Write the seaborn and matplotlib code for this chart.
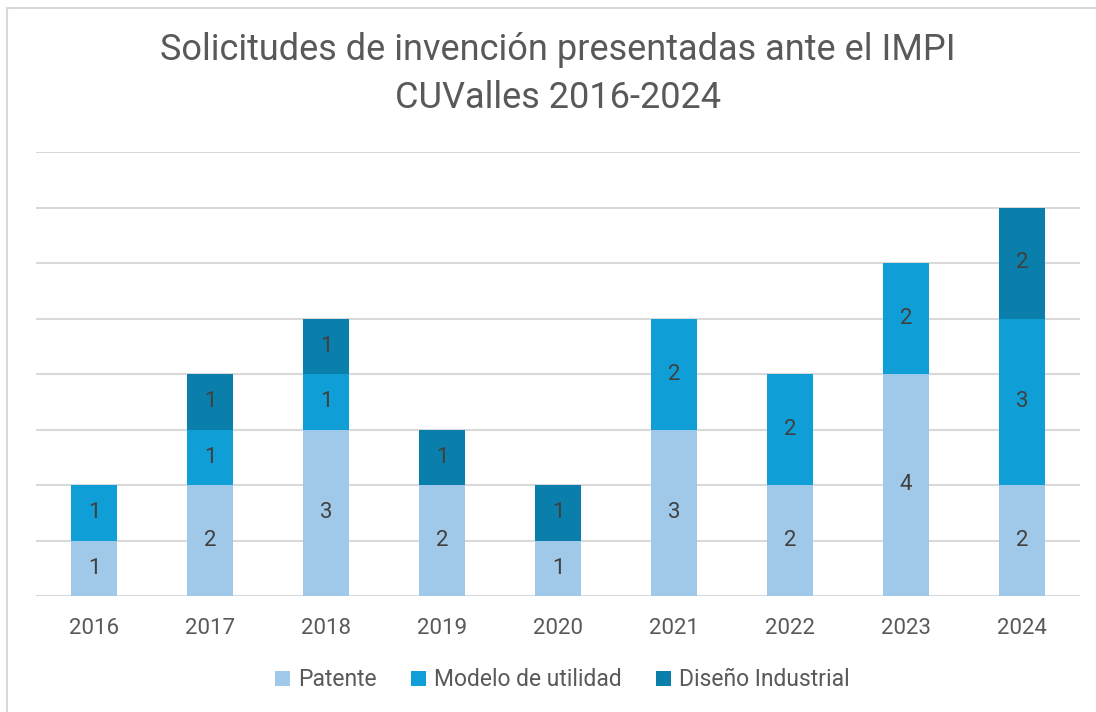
import matplotlib
matplotlib.use("Agg")
import matplotlib.pyplot as plt
import seaborn as sns
import numpy as np
from matplotlib.patches import Patch, Rectangle

years = ["2016", "2017", "2018", "2019", "2020", "2021", "2022", "2023", "2024"]
patente = [1, 2, 3, 2, 1, 3, 2, 4, 2]
modelo = [1, 1, 1, 0, 0, 2, 2, 2, 3]
diseno = [0, 1, 1, 1, 1, 0, 0, 0, 2]
series_names = ["Patente", "Modelo de utilidad", "Diseño Industrial"]
colors = ["#A0C8E8", "#0F9ED5", "#0B7FAB"]
title = "Solicitudes de invención presentadas ante el IMPI\nCUValles 2016-2024"

sns.set_theme(style="white")
plt.rcParams['font.family'] = ['Roboto', 'DejaVu Sans']

fig = plt.figure(figsize=(10.96, 7.12), dpi=100)
fig.patches.append(Rectangle((7/1096, -0.1), 1.2, 1 - 8/712 + 0.1, transform=fig.transFigure,
                             fill=False, edgecolor="#D9D9D9", linewidth=1.5))
ax = fig.add_axes([36/1096, 1 - 596/712, (1080 - 36)/1096, (596 - 152)/712])

bottom = np.zeros(len(years))
for name, vals, col in zip(series_names, [patente, modelo, diseno], colors):
    vals = np.array(vals, dtype=float)
    sns.barplot(x=years, y=vals, bottom=bottom, color=col, width=0.405, ax=ax,
                saturation=1, zorder=3, edgecolor="none", linewidth=0)
    for i, v in enumerate(vals):
        if v > 0:
            ax.text(i, bottom[i] + v / 2, f"{int(v)}", ha="center", va="center",
                    fontsize=16, color="#404040", zorder=4)
    bottom += vals

ax.set_ylim(0, 8)
ax.set_xlim(-0.5, len(years) - 0.5)
ax.set_yticks(np.arange(0, 9, 1))
ax.set_yticklabels([])
ax.tick_params(axis="y", length=0)
ax.tick_params(axis="x", length=0, labelsize=16, labelcolor="#595959", pad=16)
ax.grid(axis="y", color="#D9D9D9", linewidth=1.5, zorder=0)
ax.set_axisbelow(True)
for s in ax.spines.values():
    s.set_visible(False)
ax.set_xlabel("")
ax.set_ylabel("")

fig.text(558/1096, 1 - 74/712, title, ha="center", va="center", fontsize=26,
         color="#595959", linespacing=1.4)

handles = [Patch(facecolor=c, edgecolor="none") for c in colors]
fig.legend(handles, series_names, loc="center", bbox_to_anchor=(562/1096, 1 - 680/712),
           ncol=3, frameon=False, fontsize=16.5, labelcolor="#595959",
           handlelength=0.65, handleheight=0.65, handletextpad=0.35, columnspacing=1.5)

fig.savefig("out.png", dpi=100)
